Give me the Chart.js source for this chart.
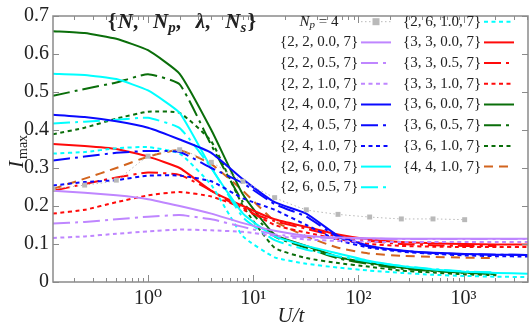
<!DOCTYPE html>
<html>
<head>
<meta charset="utf-8">
<script src="https://cdn.jsdelivr.net/npm/chart.js@4/dist/chart.umd.min.js"></script>
<style>
  html, body { margin: 0; padding: 0; background: #fff; }
</style>
</head>
<body>
<canvas id="chart" width="532" height="329"></canvas>
<script>
// U/t values (powers of two)
const U = [0.125, 0.25, 0.5, 1, 2, 4, 8, 16, 32, 64, 128, 256, 512, 1024, 2048, 4096];

// I_max, one array per curve
const np4  = [0.245, 0.255, 0.268, 0.331, 0.348, 0.315, 0.265, 0.222, 0.19, 0.178, 0.171, 0.166, 0.166, 0.164];
const p00  = [0.24, 0.235, 0.228, 0.218, 0.20, 0.18, 0.155, 0.135, 0.122, 0.117, 0.115, 0.114, 0.114, 0.114, 0.114, 0.114];
const p05  = [0.154, 0.158, 0.165, 0.172, 0.176, 0.165, 0.145, 0.125, 0.118, 0.115, 0.114, 0.113, 0.113, 0.113, 0.113, 0.113];
const p10  = [0.116, 0.12, 0.127, 0.133, 0.138, 0.136, 0.132, 0.122, 0.112, 0.108, 0.106, 0.105, 0.105, 0.105, 0.105, 0.105];
const b00  = [0.44, 0.434, 0.423, 0.406, 0.375, 0.34, 0.27, 0.21, 0.18, 0.122, 0.095, 0.083, 0.077, 0.074, 0.072, 0.071];
const b05  = [0.32, 0.33, 0.34, 0.345, 0.342, 0.30, 0.26, 0.205, 0.172, 0.118, 0.093, 0.082, 0.076, 0.073, 0.072, 0.071];
const b10  = [0.254, 0.263, 0.268, 0.28, 0.28, 0.265, 0.22, 0.19, 0.15, 0.11, 0.09, 0.08, 0.074, 0.07, 0.068, 0.067];
const c00  = [0.548, 0.545, 0.534, 0.504, 0.445, 0.30, 0.18, 0.12, 0.095, 0.075, 0.055, 0.042, 0.033, 0.027, 0.024, 0.022];
const c05  = [0.417, 0.422, 0.427, 0.432, 0.405, 0.30, 0.17, 0.11, 0.085, 0.068, 0.053, 0.042, 0.034, 0.028, 0.025];
const c10  = [0.338, 0.342, 0.352, 0.355, 0.338, 0.255, 0.12, 0.065, 0.048, 0.038, 0.03, 0.024, 0.019, 0.016, 0.014, 0.013];
const r00  = [0.363, 0.358, 0.35, 0.33, 0.30, 0.24, 0.20, 0.165, 0.145, 0.125, 0.112, 0.105, 0.102, 0.10, 0.099, 0.099];
const r05  = [0.24, 0.258, 0.275, 0.288, 0.282, 0.24, 0.19, 0.16, 0.14, 0.12, 0.108, 0.10, 0.097, 0.095, 0.095];
const r10  = [0.18, 0.19, 0.21, 0.228, 0.237, 0.225, 0.195, 0.15, 0.13, 0.113, 0.10, 0.095, 0.093, 0.092, 0.092, 0.092];
const g00  = [0.66, 0.655, 0.64, 0.61, 0.548, 0.40, 0.23, 0.125, 0.095, 0.066, 0.05, 0.038, 0.03, 0.025, 0.022];
const g05  = [0.49, 0.508, 0.525, 0.547, 0.52, 0.36, 0.21, 0.12, 0.09, 0.062, 0.047, 0.035, 0.029, 0.024, 0.021];
const g10  = [0.389, 0.406, 0.43, 0.448, 0.445, 0.37, 0.20, 0.09, 0.063, 0.05, 0.04, 0.03, 0.025, 0.02, 0.018];
const o10  = [0.245, 0.272, 0.30, 0.33, 0.347, 0.31, 0.24, 0.16, 0.12, 0.09, 0.075, 0.069, 0.066, 0.064, 0.063];

const labels = ['N_p = 4',
  '{2, 2, 0.0, 7}', '{2, 2, 0.5, 7}', '{2, 2, 1.0, 7}',
  '{2, 4, 0.0, 7}', '{2, 4, 0.5, 7}', '{2, 4, 1.0, 7}',
  '{2, 6, 0.0, 7}', '{2, 6, 0.5, 7}', '{2, 6, 1.0, 7}',
  '{3, 3, 0.0, 7}', '{3, 3, 0.5, 7}', '{3, 3, 1.0, 7}',
  '{3, 6, 0.0, 7}', '{3, 6, 0.5, 7}', '{3, 6, 1.0, 7}',
  '{4, 4, 1.0, 7}'];
const values = [np4, p00, p05, p10, b00, b05, b10, c00, c05, c10, r00, r05, r10, g00, g05, g10, o10];

const yTicks = [0, 0.1, 0.2, 0.3, 0.4, 0.5, 0.6, 0.7];
const xTicks = [1, 10, 100, 1000];
const xTickLabels = ['10\u2070', '10\u00b9', '10\u00b2', '10\u00b3'];

// styling
const PURPLE = '#bf86ff', BLUE = '#0a0aff', CYAN = '#00ffff', RED = '#ff0a0a', GREEN = '#0a6e0a', ORANGE = '#d2641e', GREY = '#b9b9b9';
const dashes = { solid: [], dashdot: [17, 5, 3, 5], dotted: [4, 3.5], dashed: [9, 6], grey: [1.5, 2.5] };
const looks = [
  [GREY, 'grey'],
  [PURPLE, 'solid'], [PURPLE, 'dashdot'], [PURPLE, 'dotted'],
  [BLUE, 'solid'], [BLUE, 'dashdot'], [BLUE, 'dotted'],
  [CYAN, 'solid'], [CYAN, 'dashdot'], [CYAN, 'dotted'],
  [RED, 'solid'], [RED, 'dashdot'], [RED, 'dotted'],
  [GREEN, 'solid'], [GREEN, 'dashdot'], [GREEN, 'dotted'],
  [ORANGE, 'dashed']
];

const SERIF = "'Liberation Serif', 'DejaVu Serif', serif";
const TXT = '#222';

const datasets = values.map((vals, i) => {
  const [color, kind] = looks[i];
  const isGrey = kind === 'grey';
  return {
    label: labels[i],
    data: vals.map((v, k) => ({ x: U[k], y: v })),
    borderColor: color,
    backgroundColor: color,
    borderWidth: isGrey ? 1 : 2,
    borderDash: dashes[kind],
    pointRadius: isGrey ? 3.5 : 0,
    pointStyle: 'rect',
    pointBorderWidth: 0,
    tension: 0.15,
    kind: kind
  };
});

// draw a label like "{2, 2, 0.0, 7}" or "N_p = 4" centred at cx
function drawLabel(ctx, text, cx, cy) {
  ctx.fillStyle = TXT;
  ctx.textBaseline = 'middle';
  ctx.textAlign = 'left';
  if (text.startsWith('N_p')) {
    const parts = [['N', 'italic 15px ' + SERIF, 0], ['p', 'italic 11px ' + SERIF, 3], [' = 4', '15px ' + SERIF, 0]];
    let w = 0;
    parts.forEach(p => { ctx.font = p[1]; w += ctx.measureText(p[0]).width; });
    let x = cx - w / 2;
    parts.forEach(p => { ctx.font = p[1]; ctx.fillText(p[0], x, cy + p[2]); x += ctx.measureText(p[0]).width; });
  } else {
    ctx.font = '15px ' + SERIF;
    ctx.textAlign = 'center';
    ctx.fillText(text, cx, cy);
  }
}

const decorPlugin = {
  id: 'decor',
  afterDraw(chart) {
    const ctx = chart.ctx;
    const a = chart.chartArea;
    const xs = chart.scales.x, ys = chart.scales.y;
    ctx.save();

    // frame
    ctx.strokeStyle = '#8a8a8a';
    ctx.lineWidth = 1.5;
    ctx.setLineDash([]);
    ctx.strokeRect(a.left, a.top, a.right - a.left, a.bottom - a.top);

    // inward ticks
    ctx.lineWidth = 1;
    ctx.beginPath();
    yTicks.forEach(v => {
      const y = Math.round(ys.getPixelForValue(v)) + 0.5;
      ctx.moveTo(a.left, y); ctx.lineTo(a.left + 6, y);
      ctx.moveTo(a.right, y); ctx.lineTo(a.right - 6, y);
    });
    for (let e = -1; e <= 3; e++) {
      for (let m = 1; m <= 9; m++) {
        const v = m * Math.pow(10, e);
        if (v < xs.min || v > xs.max) continue;
        const x = Math.round(xs.getPixelForValue(v)) + 0.5;
        const len = m === 1 ? 7 : 4;
        ctx.moveTo(x, a.bottom); ctx.lineTo(x, a.bottom - len);
        ctx.moveTo(x, a.top); ctx.lineTo(x, a.top + len);
      }
    }
    ctx.stroke();

    // axis titles
    ctx.fillStyle = TXT;
    ctx.textAlign = 'center';
    ctx.textBaseline = 'alphabetic';
    ctx.font = 'italic 21px ' + SERIF;
    ctx.fillText('U/t', 291, 322);

    ctx.save();
    ctx.translate(23, 168);
    ctx.rotate(-Math.PI / 2);
    ctx.textAlign = 'left';
    ctx.font = 'italic 21px ' + SERIF;
    ctx.fillText('I', 0, 0);
    const wI = ctx.measureText('I').width;
    ctx.font = '14px ' + SERIF;
    ctx.fillText('max', wI + 2, 4);
    ctx.restore();

    // annotation {N, N_p, λ, N_s}, spread to span x 108..259
    const B = 'bold 21px ' + SERIF, BI = 'bold italic 21px ' + SERIF, SUB = 'bold italic 15px ' + SERIF;
    const pieces = [['{', B, 0], ['N', BI, 0], [',', B, 0], ['N', BI, 0], ['p', SUB, 4], [',', B, 0],
      ['\u03bb', BI, 0], [',', B, 0], ['N', BI, 0], ['s', SUB, 4], ['}', B, 0]];
    let natural = 0;
    pieces.forEach(p => { ctx.font = p[1]; natural += ctx.measureText(p[0]).width; });
    const gap = Math.max(2, (151 - natural - 6) / 3);
    let x = 108;
    ctx.textAlign = 'left';
    pieces.forEach((p, k) => {
      ctx.font = p[1];
      ctx.fillText(p[0], x, 28 + p[2]);
      x += ctx.measureText(p[0]).width;
      if (p[0] === ',') x += gap;
      if (k === 0 || k === pieces.length - 2) x += 1.5;
    });

    // two-column legend
    const cols = [
      { cx: 319, x0: 361, x1: 391, from: 0, to: 9 },
      { cx: 442, x0: 484, x1: 514, from: 9, to: 17 }
    ];
    cols.forEach(col => {
      for (let i = col.from; i < col.to; i++) {
        const ds = chart.data.datasets[i];
        const cy = 21.7 + 20.7 * (i - col.from);
        drawLabel(ctx, ds.label, col.cx, cy);
        ctx.strokeStyle = ds.borderColor;
        ctx.lineWidth = ds.borderWidth;
        ctx.setLineDash(ds.borderDash);
        ctx.beginPath();
        ctx.moveTo(col.x0, cy); ctx.lineTo(col.x1, cy);
        ctx.stroke();
        ctx.setLineDash([]);
        if (ds.kind === 'grey') {
          ctx.fillStyle = ds.borderColor;
          ctx.fillRect((col.x0 + col.x1) / 2 - 3.5, cy - 3.5, 7, 7);
        }
      }
    });
    ctx.restore();
  }
};

new Chart(document.getElementById('chart'), {
  type: 'line',
  data: { datasets: datasets },
  plugins: [decorPlugin],
  options: {
    responsive: false,
    animation: false,
    devicePixelRatio: 1,
    layout: { padding: { top: 8, right: 1, left: 0, bottom: 0 } },
    plugins: { legend: { display: false }, tooltip: { enabled: false } },
    scales: {
      x: {
        type: 'logarithmic',
        min: 0.125,
        max: 4096,
        grid: { display: false, drawTicks: false },
        border: { display: false },
        afterBuildTicks: s => { s.ticks = xTicks.map(v => ({ value: v })); },
        afterFit: s => { s.height = 47; },
        ticks: {
          autoSkip: false,
          maxRotation: 0,
          padding: 5,
          color: TXT,
          font: { family: SERIF, size: 20 },
          callback: v => xTickLabels[xTicks.indexOf(v)]
        }
      },
      y: {
        type: 'linear',
        min: 0,
        max: 0.7,
        grid: { display: false, drawTicks: false },
        border: { display: false },
        afterBuildTicks: s => { s.ticks = yTicks.map(v => ({ value: v })); },
        afterFit: s => { s.width = 53; },
        ticks: {
          padding: 4,
          color: TXT,
          font: { family: SERIF, size: 20 },
          callback: v => (v === 0 ? '0' : v.toFixed(1))
        }
      }
    }
  }
});
</script>
</body>
</html>
